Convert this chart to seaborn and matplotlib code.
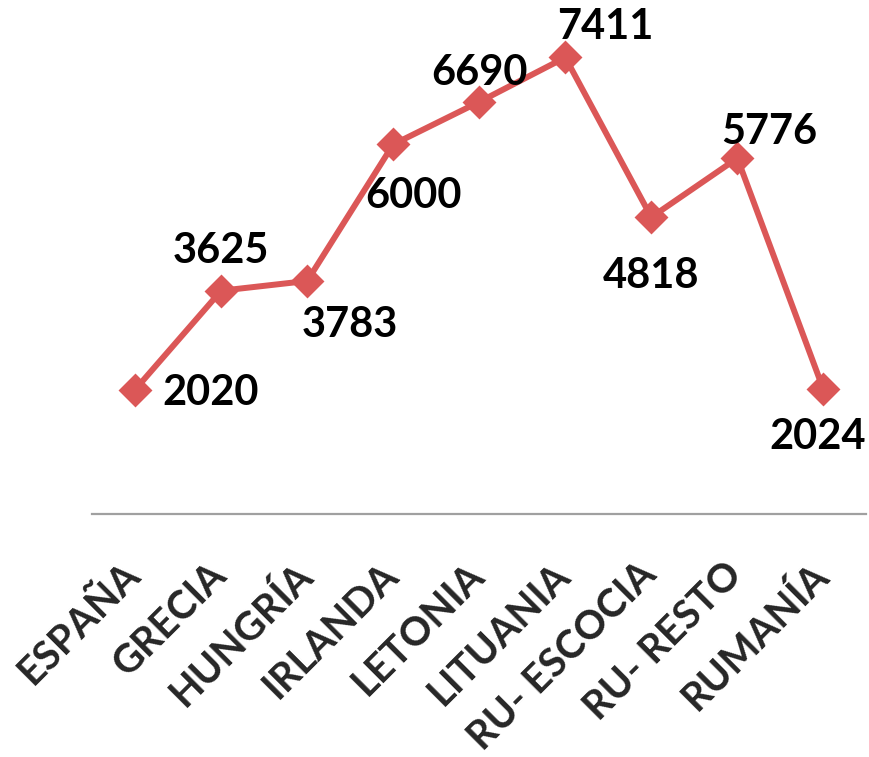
import pandas as pd
import matplotlib.pyplot as plt
import matplotlib.transforms as mtransforms
import seaborn as sns

# Data
paises = ['ESPAÑA', 'GRECIA', 'HUNGRÍA', 'IRLANDA', 'LETONIA',
          'LITUANIA', 'RU- ESCOCIA', 'RU- RESTO', 'RUMANÍA']
valores = [2020, 3625, 3783, 6000, 6690, 7411, 4818, 5776, 2024]

# label offsets from each point, in pixels (dx, dy)
offsets = [(75, -3), (0, 40), (43, -44), (20, -52), (0, 29),
           (40, 30), (0, -59), (32, 26), (-6, -48)]

df = pd.DataFrame({'pais': paises, 'valor': valores})
df['x'] = range(len(df))

sns.set_style('white')
plt.rcParams['font.family'] = ['Lato', 'DejaVu Sans']

fig = plt.figure(figsize=(8.69, 7.57), dpi=100)
ax = fig.add_axes([0.106, 0.321, 0.891, 0.651])

color = '#DB5757'
sns.lineplot(data=df, x='x', y='valor', ax=ax, color=color, linewidth=4.3,
             marker='D', markersize=15, markeredgecolor=color,
             markeredgewidth=2, solid_joinstyle='round')

for xi, v, (dx, dy) in zip(df['x'], df['valor'], offsets):
    ax.annotate(str(v), (xi, v), xytext=(dx, dy), textcoords='offset pixels',
                ha='center', va='center', fontsize=30, fontweight='bold',
                color='black', annotation_clip=False)

ax.set_xlim(-0.5, 8.5)
ax.set_ylim(0, 8000)
ax.set_xticks(df['x'])
ax.set_xticklabels(paises, rotation=45, ha='right', rotation_mode='anchor',
                   fontsize=28.5, fontweight='bold')
ax.tick_params(axis='x', length=0, pad=30)
# nudge the rotated labels a bit to the left
shift = mtransforms.ScaledTranslation(-10 / 72, 0, fig.dpi_scale_trans)
for lbl in ax.get_xticklabels():
    lbl.set_transform(lbl.get_transform() + shift)
ax.set_yticks([])
ax.set_xlabel('')
ax.set_ylabel('')
for s in ['top', 'left', 'right']:
    ax.spines[s].set_visible(False)
ax.spines['bottom'].set_color('#A0A0A0')
ax.spines['bottom'].set_linewidth(1.6)

fig.savefig('out.png', dpi=100)
